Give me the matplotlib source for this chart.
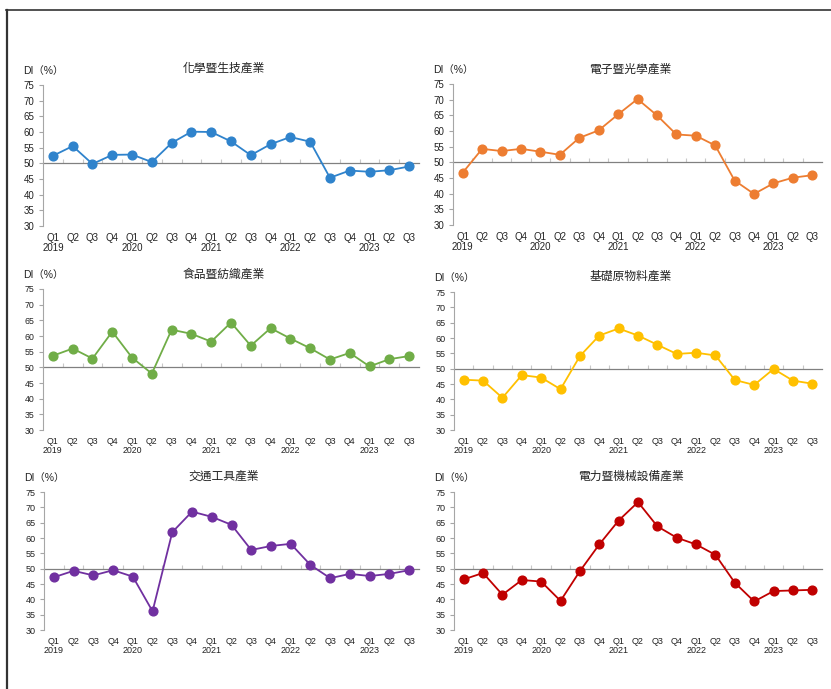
import matplotlib
matplotlib.use("Agg")
import matplotlib.pyplot as plt
from matplotlib.lines import Line2D

plt.rcParams['font.family'] = ['Liberation Sans', 'Noto Sans CJK TC', 'DejaVu Sans']

# quarters Q1 2019 .. Q3 2023
quarters = ['Q1', 'Q2', 'Q3', 'Q4'] * 4 + ['Q1', 'Q2', 'Q3']
years = ['2019', '2020', '2021', '2022', '2023']

chem = [52.4, 55.5, 49.8, 52.7, 52.8, 50.4, 56.5, 60.1, 60.0, 57.0,
        52.6, 56.1, 58.4, 56.9, 45.4, 47.7, 47.3, 47.8, 49.0]
elec = [46.7, 54.3, 53.6, 54.3, 53.4, 52.4, 57.8, 60.2, 65.3, 70.2,
        65.0, 58.9, 58.5, 55.4, 44.2, 39.9, 43.3, 45.1, 45.9]
food = [53.7, 56.0, 52.8, 61.4, 53.1, 48.0, 62.0, 60.7, 58.2, 64.3,
        56.9, 62.5, 59.2, 56.1, 52.5, 54.6, 50.3, 52.6, 53.6]
basic = [46.4, 46.1, 40.5, 47.9, 47.1, 43.3, 54.1, 60.8, 63.1, 60.8,
         57.8, 54.8, 55.2, 54.3, 46.3, 44.7, 49.9, 46.1, 45.1]
trans = [47.2, 49.3, 47.8, 49.5, 47.4, 36.1, 61.9, 68.6, 66.9, 64.3,
         56.1, 57.4, 58.1, 51.2, 46.9, 48.3, 47.6, 48.3, 49.5]
power = [46.5, 48.6, 41.5, 46.3, 45.8, 39.5, 49.2, 57.9, 65.7, 71.7,
         63.8, 60.1, 57.9, 54.5, 45.4, 39.3, 42.7, 42.9, 43.1]

titles = ['化學暨生技產業', '電子暨光學產業', '食品暨紡織產業',
          '基礎原物料產業', '交通工具產業', '電力暨機械設備產業']
series = [chem, elec, food, basic, trans, power]
colors = ['#2F83CC', '#ED7D31', '#70AD47', '#FFC000', '#7030A0', '#C00000']

W, H = 831, 689
# axes boxes in pixels: left, right, top, bottom
boxes = [(43, 419, 85, 226), (453, 822, 84, 225),
         (43, 419, 289, 430), (454, 822, 292, 430),
         (44, 419, 492, 630), (454, 822, 492, 630)]
title_gap = [10, 8, 8, 9, 9, 9]   # pixels above the plot top
tick_fs = [7, 7, 6.3, 6.5, 6.5, 6.5]

labels = []
for i, q in enumerate(quarters):
    if q == 'Q1':
        labels.append(q + '\n' + years[i // 4])
    else:
        labels.append(q)

fig = plt.figure(figsize=(W / 100, H / 100), dpi=100)

for k in range(6):
    l, r, t, b = boxes[k]
    ax = fig.add_axes([l / W, 1 - b / H, (r - l) / W, (b - t) / H])
    x = list(range(len(quarters)))
    ax.plot(x, series[k], color=colors[k], lw=1.3, marker='o', ms=6.3,
            mec=colors[k], mfc=colors[k], zorder=3)
    ax.set_xlim(-0.5, len(quarters) - 0.5)
    ax.set_ylim(30, 75)
    ax.set_yticks(range(30, 80, 5))
    ax.set_xticks(x)
    ax.set_xticklabels(labels, linespacing=1.05)
    for s in ['top', 'right', 'bottom']:
        ax.spines[s].set_visible(False)
    ax.spines['left'].set_color('#A6A6A6')
    ax.tick_params(axis='y', length=3, color='#A6A6A6', labelsize=tick_fs[k],
                   pad=3, labelcolor='#222222')
    ax.tick_params(axis='x', length=0, labelsize=tick_fs[k], pad=5,
                   labelcolor='#222222')
    for lab in ax.get_xticklabels():
        lab.set_verticalalignment('top')
    # 50 line with category boundary ticks
    sec = ax.secondary_xaxis((50 - 30) / (75 - 30))
    sec.set_xticks([i + 0.5 for i in range(len(quarters) - 1)])
    sec.set_xticklabels([])
    sec.tick_params(direction='in', length=3, color='#C8C8C8', width=0.8)
    sec.spines['bottom'].set_color('#808080')
    sec.spines['bottom'].set_linewidth(0.9)
    ax.annotate(titles[k], xy=(0.48, 1), xycoords='axes fraction',
                xytext=(0, title_gap[k]), textcoords='offset pixels',
                ha='center', va='bottom', fontsize=8.5,
                family=['Noto Sans CJK TC'], color='#222222')
    ax.annotate('DI（%）', xy=(0, 1), xycoords='axes fraction',
                xytext=(-20, 9), textcoords='offset pixels', ha='left',
                va='bottom', fontsize=7.5, color='#222222')

# outer frame (left and top edges)
fig.add_artist(Line2D([7 / W, 7 / W], [0, 1 - 10 / H], color='#333333', lw=1.6))
fig.add_artist(Line2D([6 / W, 1], [1 - 10 / H, 1 - 10 / H], color='#333333', lw=1.2))

fig.savefig('out.png', dpi=100)
